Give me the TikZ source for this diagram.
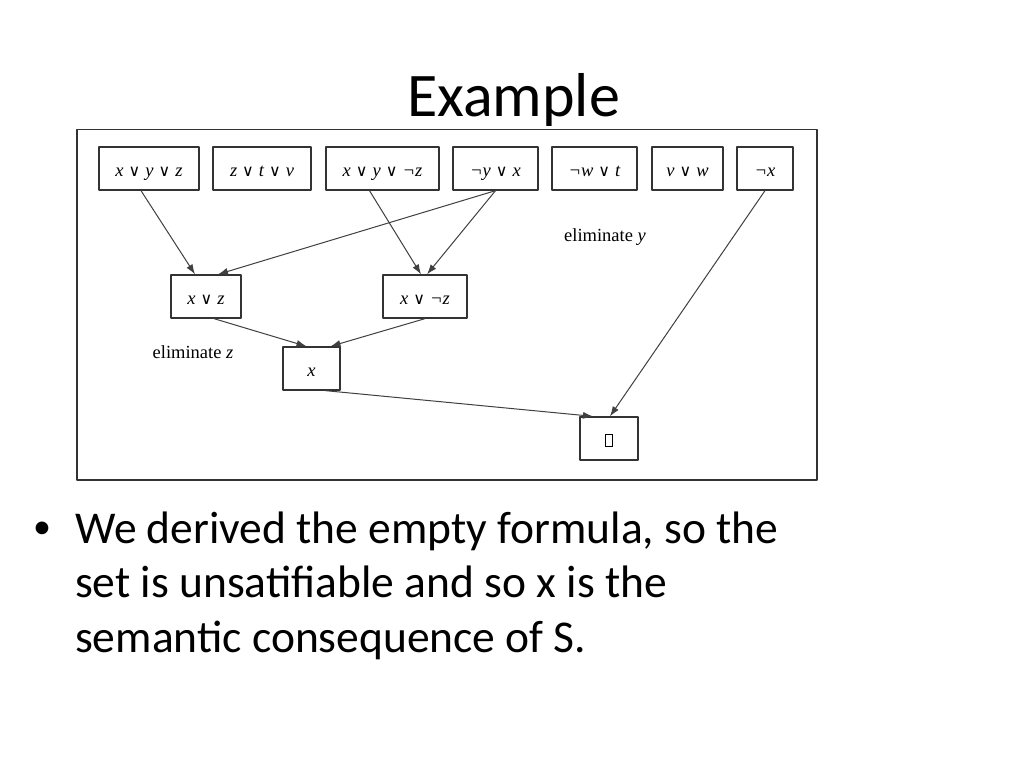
\documentclass[tikz,border=0pt]{standalone}
\usepackage{amsmath,amssymb}
\usepackage{fontspec}
\setmainfont{Carlito}
\newfontfamily\tnr{Liberation Serif}
\newfontfamily\djs{DejaVu Serif}
\newcommand\dis{\hspace{5pt}{\upshape\djs\fontsize{16}{16}\selectfont ∨}\hspace{5pt}}
\usetikzlibrary{arrows.meta}

\begin{document}
\begin{tikzpicture}[x=1pt,y=-1pt,line cap=round,line join=round,
  clause/.style={draw=black!80, line width=1.3pt, fill=white, minimum height=43pt,
    inner sep=0pt, text height=15pt, text depth=0pt, font=\tnr\itshape\fontsize{18.5}{22}\selectfont},
  res/.style={draw=black!75, line width=1pt, -{Latex[length=10pt,width=7pt]}},
  note/.style={inner sep=0pt, font=\tnr\fontsize{18.5}{22}\selectfont},
  bodytext/.style={anchor=base west, inner sep=0pt, font=\fontsize{45.5}{54}\selectfont}]
  \useasboundingbox (0,0) rectangle (1023,765);

  % Slide title (the picture below cuts off the descender)
  \node[inner sep=0pt, anchor=base, font=\fontsize{62}{70}\selectfont] (title) at (513.5,117) {Example};

  % Picture frame
  \draw[black!80, line width=1.2pt, fill=white] (77,129.5) rectangle (817,480);

  % Input clauses (top row)
  \foreach \n/\cx/\w/\f in {c1/149/100/{x\dis y\dis z}, c2/262/98/{z\dis t\dis v},
      c3/382.5/113/{x\dis y\dis ¬z}, c4/495.5/85/{¬y\dis x},
      c5/594.5/85/{¬w\dis t}, c6/687.5/71/{v\dis w}, c7/765/56/{¬x}}{
    \node[clause, minimum width=\w pt] (\n) at (\cx,168.5) {\f};
  }

  % Resolvents
  \node[clause, minimum width=70pt] (xz) at (206,296.5) {x\dis z};
  \node[clause, minimum width=84pt] (xnz) at (425,296.5) {x\dis ¬z};
  \node[clause, minimum width=57pt] (x) at (311.5,368.5) {x};
  \node[clause, minimum width=58pt] (empty) at (609,438.5)
    {{\setlength{\fboxsep}{0pt}\setlength{\fboxrule}{1pt}\fbox{\rule{0pt}{11pt}\hspace{6pt}}}};

  % Resolution steps
  \draw[res] ([xshift=-8pt]c1.south) -- ([xshift=-11pt]xz.north);
  \draw[res] (c4.south) -- ([xshift=12pt]xz.north);
  \draw[res] ([xshift=-13pt]c3.south) -- ([xshift=-4pt]xnz.north);
  \draw[res] (c4.south) -- ([xshift=2pt]xnz.north);
  \draw[res] ([xshift=8pt]xz.south) -- ([xshift=-5pt]x.north);
  \draw[res] (xnz.south) -- ([xshift=19pt]x.north);
  \draw[res] ([xshift=14pt]x.south) -- ([xshift=-16pt]empty.north);
  \draw[res] (c7.south) -- ([xshift=1pt]empty.north);

  % Notes
  \node[note] (elimy) at (605,237) {eliminate \textit{y}};
  \node[note] (elimz) at (193,352) {eliminate \textit{z}};

  % Bullet text
  \node[bodytext, font=\fontsize{36}{54}\selectfont] (bullet) at (33,538) {\textbullet};
  \node[bodytext] (line1) at (75,543) {We derived the empty formula, so the};
  \node[bodytext] (line2) at (75,597) {set is unsatifiable and so x is the};
  \node[bodytext] (line3) at (75,652) {semantic consequence of S.};
\end{tikzpicture}
\end{document}
